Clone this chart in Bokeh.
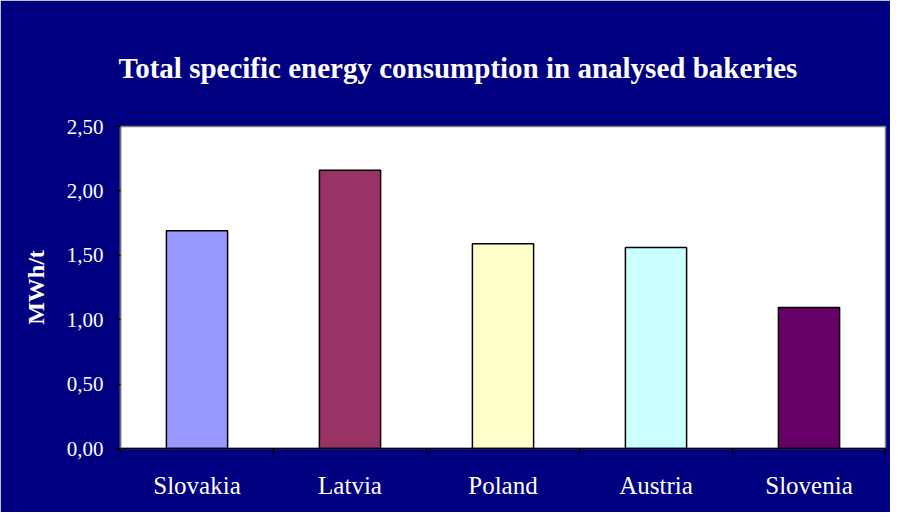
from bokeh.plotting import figure
from bokeh.models import ColumnDataSource, FixedTicker, CustomJSTickFormatter, Range1d
from bokeh.embed import file_html
from bokeh.resources import INLINE

categories = ["Slovakia", "Latvia", "Poland", "Austria", "Slovenia"]
values = [1.69, 2.16, 1.59, 1.56, 1.095]
bar_colors = ["#9999FF", "#993366", "#FFFFCC", "#CCFFFF", "#660066"]
y_ticks = [0.0, 0.5, 1.0, 1.5, 2.0, 2.5]

n = len(categories)
centers = [i + 0.5 for i in range(n)]
bounds = [float(i) for i in range(n + 1)]

src = ColumnDataSource(dict(x=centers, top=values, color=bar_colors, cat=categories))

NAVY = "#000080"
FONT = "Liberation Serif"

p = figure(width=890, height=512, output_backend="svg", toolbar_location=None,
           x_range=Range1d(0, n), y_range=Range1d(0, y_ticks[-1]),
           min_border_left=120, min_border_right=5, min_border_top=126, min_border_bottom=64)

p.background_fill_color = "white"
p.border_fill_color = NAVY
p.outline_line_color = "#808080"
p.outline_line_width = 1.5
p.grid.visible = False

p.vbar(x="x", top="top", bottom=0, width=0.4, source=src, fill_color="color",
       line_color="black", line_width=1.5)

# title
p.title.text = "Total specific energy consumption in analysed bakeries"
p.title.text_font = FONT
p.title.text_font_style = "bold"
p.title.text_font_size = "29px"
p.title.text_color = "white"
p.title.align = "left"
p.title.offset = -2
p.title.standoff = 86

# x axis
xa = p.xaxis[0]
xa.ticker = FixedTicker(ticks=centers, minor_ticks=bounds)
xa.formatter = CustomJSTickFormatter(args=dict(cats=categories),
                                     code="return cats[Math.floor(tick)] || '';")
xa.major_tick_out = 0
xa.major_tick_in = 0
xa.minor_tick_out = 7
xa.minor_tick_in = 0
xa.minor_tick_line_color = "black"
xa.minor_tick_line_width = 1.5
xa.axis_line_color = "black"
xa.axis_line_width = 1.5
xa.major_label_text_font = FONT
xa.major_label_text_font_size = "25px"
xa.major_label_text_color = "white"
xa.major_label_standoff = 16

# y axis
ya = p.yaxis[0]
ya.ticker = FixedTicker(ticks=y_ticks, minor_ticks=[])
ya.formatter = CustomJSTickFormatter(code="return tick.toFixed(2).replace('.', ',');")
ya.major_tick_out = 5
ya.major_tick_in = 0
ya.major_tick_line_color = "black"
ya.major_tick_line_width = 1.5
ya.axis_line_color = "#707070"
ya.axis_line_width = 1.5
ya.major_label_text_font = FONT
ya.major_label_text_font_size = "21px"
ya.major_label_text_color = "white"
ya.major_label_standoff = 12
ya.axis_label = "MWh/t"
ya.axis_label_text_font = FONT
ya.axis_label_text_font_style = "bold"
ya.axis_label_text_font_size = "24px"
ya.axis_label_text_color = "white"
ya.axis_label_standoff = 15

open("out.html", "w").write(file_html(p, INLINE))
